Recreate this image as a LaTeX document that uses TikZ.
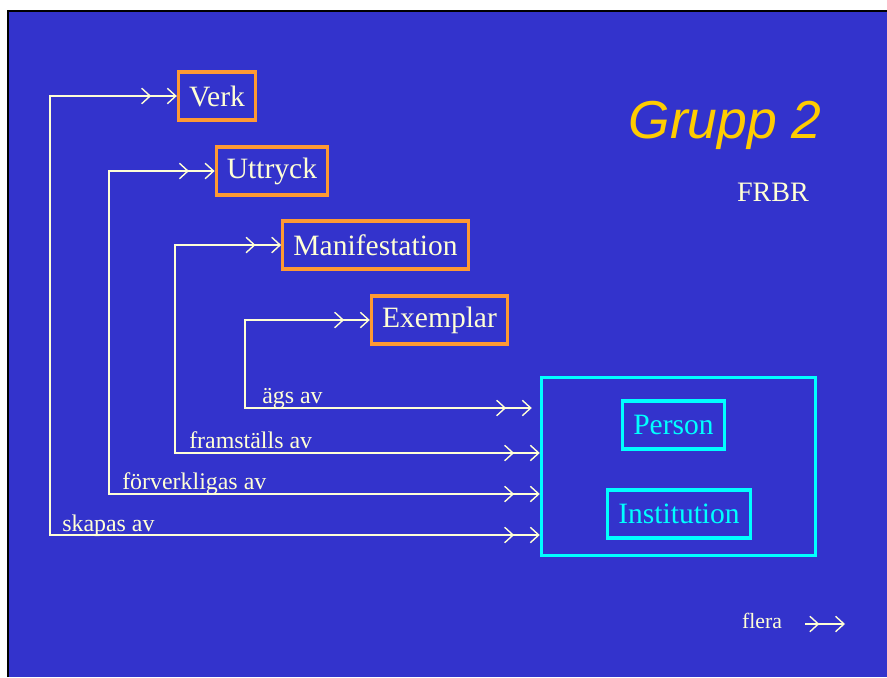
\documentclass[tikz,border=0pt]{standalone}
\usepackage{fontspec}
\setmainfont{Liberation Serif}
\newfontfamily\grppfont{Liberation Sans}
\usetikzlibrary{arrows.meta}
\definecolor{bakgrund}{RGB}{51,51,204}
\definecolor{orangekant}{RGB}{255,153,51}
\definecolor{cyankant}{RGB}{0,255,255}
\definecolor{gradde}{RGB}{255,255,214}
\definecolor{gul}{RGB}{255,204,0}
\begin{document}
\begin{tikzpicture}[x=0.025cm, y=-0.025cm,
  dpil/.tip={Straight Barb[length=6pt,width=11pt,sep=11pt] Straight Barb[length=6pt,width=11pt]},
  ent/.style={draw=orangekant, line width=2.3pt, text=gradde, font=\fontsize{21}{24}\selectfont, inner xsep=7.6pt, minimum height=1.2cm},
  agt/.style={draw=cyankant, line width=2.3pt, text=cyankant, font=\fontsize{21}{24}\selectfont, inner xsep=7.6pt, minimum height=1.2cm},
  lbl/.style={anchor=base west, text=gradde, inner sep=0pt, font=\fontsize{17}{20}\selectfont},
  pil/.style={draw=gradde, line width=1pt, {dpil}-{dpil}}]
\useasboundingbox (0,0) rectangle (887,677);
\fill[bakgrund] (8,11) rectangle (887,677);
\draw[line width=2pt] (8,677) -- (8,11) -- (887,11);
\node[ent] (E_0) at (217,96) {Verk};
\node[ent] (E_1) at (272,171) {Uttryck};
\node[ent] (E_2) at (375.5,245) {Manifestation};
\node[ent] (E_3) at (439.5,320) {Exemplar};
\node[draw=cyankant, line width=2.4pt, minimum width=6.85cm, minimum height=4.45cm] (A_0) at (678.5,466.5) {};
\node[agt] (A_1) at (673.5,425) {Person};
\node[agt] (A_2) at (679,514) {Institution};
\node[text=gul, font=\grppfont\itshape\fontsize{38}{44}\selectfont] (G_0) at (725,125) {Grupp 2};
\node[text=gradde, font=\fontsize{20}{24}\selectfont] (G_1) at (773,192) {FRBR};
\coordinate (K_0) at (50,535);
\coordinate (K_1) at (109,494);
\coordinate (K_2) at (175,453);
\coordinate (K_3) at (245,408);
\draw[pil] (E_0.west) -| (K_0) -- (K_0 -| A_0.west);
\node[lbl] (L_0) at (62,531) {skapas av};
\draw[pil] (E_1.west) -| (K_1) -- (K_1 -| A_0.west);
\node[lbl] (L_1) at (122,489) {förverkligas av};
\draw[pil] (E_2.west) -| (K_2) -- (K_2 -| A_0.west);
\node[lbl] (L_2) at (189,448) {framställs av};
\draw[pil] (E_3.west) -| (K_3) -- ([xshift=-0.2cm]K_3 -| A_0.west);
\node[lbl] (L_3) at (262,403) {ägs av};
\node[text=gradde, font=\fontsize{15.5}{18}\selectfont] (F_0) at (762,621) {flera};
\coordinate (F_1) at (805,624);
\coordinate (F_2) at (845,624);
\draw[draw=gradde, line width=1pt, -{dpil}] (F_1) -- (F_2);
\end{tikzpicture}
\end{document}
